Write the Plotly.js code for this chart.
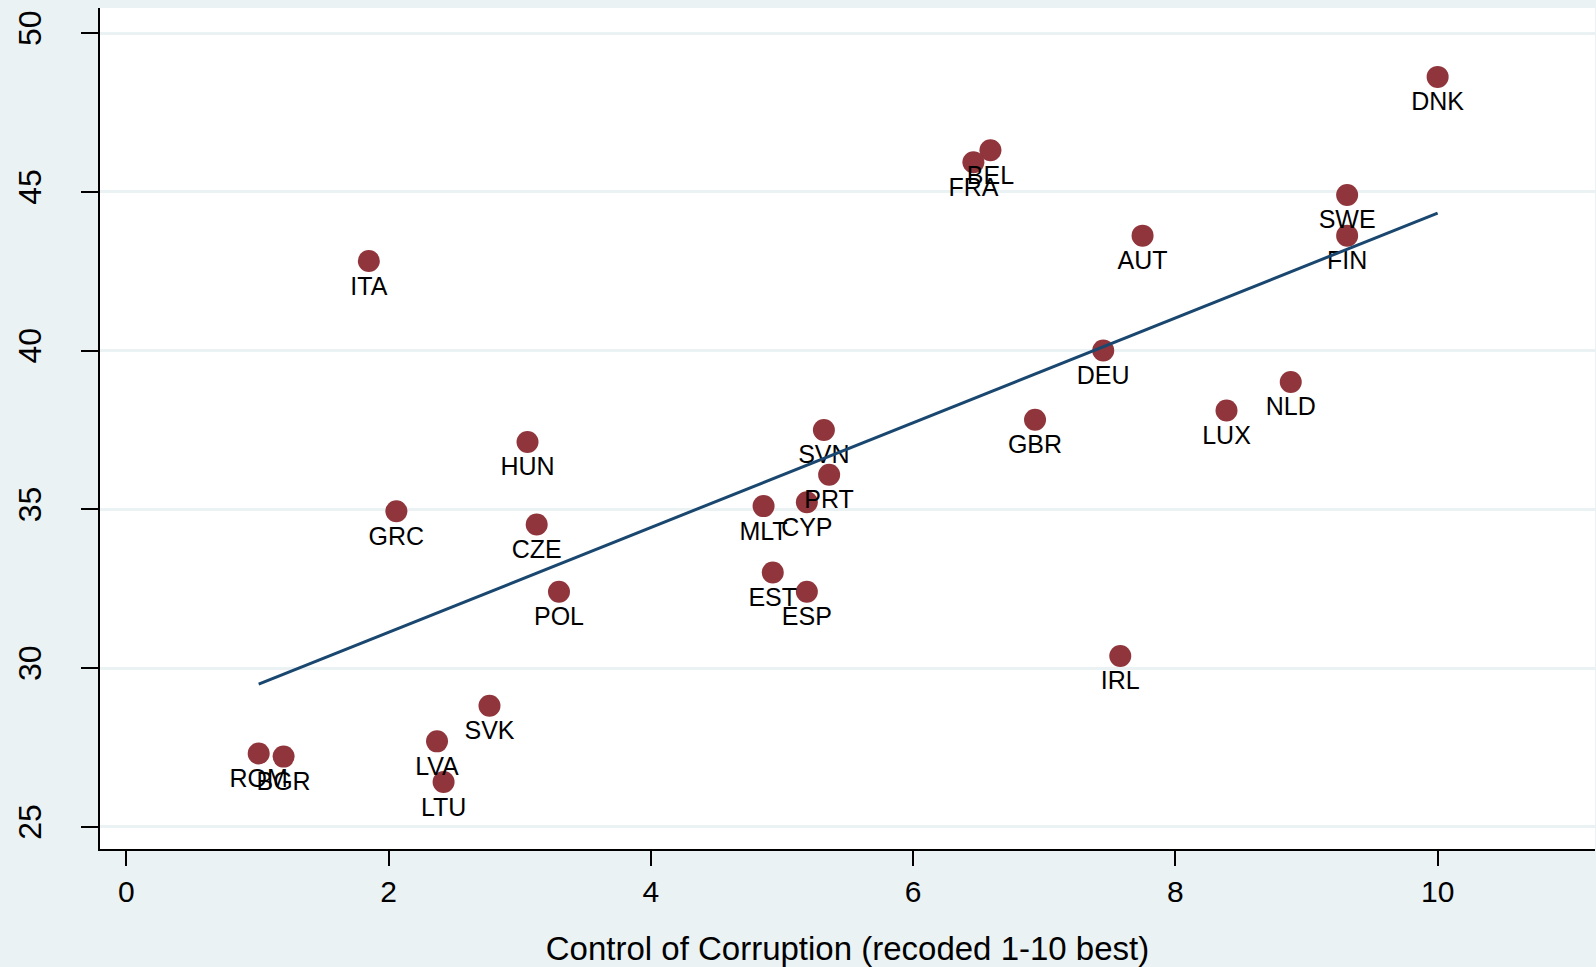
<!DOCTYPE html>
<html>
<head>
<meta charset="utf-8">
<script src="https://cdn.plot.ly/plotly-3.0.1.min.js"></script>
<style>html,body{margin:0;padding:0;background:#EAF2F3;}#chart{width:1596px;height:967px;}</style>
</head>
<body>
<div id="chart"></div>
<script>
const countries = ["DNK","BEL","FRA","SWE","FIN","AUT","ITA","DEU","NLD","LUX","GBR","SVN","HUN","PRT","CYP","MLT","GRC","CZE","EST","POL","ESP","IRL","SVK","LVA","ROM","BGR","LTU"];
const corruption = [10.0,6.59,6.46,9.31,9.31,7.75,1.85,7.45,8.88,8.39,6.93,5.32,3.06,5.36,5.19,4.86,2.06,3.13,4.93,3.30,5.19,7.58,2.77,2.37,1.01,1.20,2.42];
const outcome = [48.62,46.31,45.93,44.90,43.62,43.62,42.82,40.00,39.01,38.11,37.82,37.50,37.12,36.09,35.22,35.10,34.94,34.52,33.01,32.40,32.40,30.38,28.81,27.69,27.31,27.21,26.41];
const fitX = [1.01, 10.0];
const fitY = [29.49, 44.33];
const xTicks = [0,2,4,6,8,10];
const yTicks = [25,30,35,40,45,50];

const font = "Liberation Sans, Arial, sans-serif";
const traces = [
  {
    x: corruption, y: outcome, text: countries,
    type: "scatter", mode: "markers+text",
    textposition: "bottom center",
    textfont: {family: font, size: 25, color: "#000"},
    marker: {color: "#90353B", size: 22},
    hoverinfo: "text+x+y", showlegend: false
  },
  {
    x: fitX, y: fitY, type: "scatter", mode: "lines",
    line: {color: "#1A476F", width: 3}, showlegend: false, hoverinfo: "skip"
  }
];
const layout = {
  width: 1596, height: 967,
  paper_bgcolor: "#EAF2F3", plot_bgcolor: "#FFFFFF",
  margin: {l: 99.5, r: 1, t: 7.5, b: 117.5},
  font: {family: font, color: "#000"},
  showlegend: false,
  xaxis: {
    range: [-0.2, 11.2], tickvals: xTicks, ticktext: xTicks.map(String),
    ticks: "outside", ticklen: 15, tickwidth: 2, tickcolor: "#000",
    tickfont: {family: font, size: 30, color: "#000"},
    showgrid: false, zeroline: false,
    showline: true, linecolor: "#000", linewidth: 2,
    title: {text: "Control of Corruption (recoded 1-10 best)", font: {family: font, size: 33, color: "#000"}, standoff: 36}
  },
  yaxis: {
    range: [24.3, 50.79], tickvals: yTicks, ticktext: yTicks.map(String),
    ticks: "outside", ticklen: 17, tickwidth: 2, tickcolor: "#000",
    tickangle: -90,
    tickfont: {family: font, size: 32, color: "#000"},
    ticklabelstandoff: 27,
    showgrid: true, gridcolor: "#EAF2F3", gridwidth: 3,
    zeroline: false,
    showline: true, linecolor: "#000", linewidth: 2
  }
};
Plotly.newPlot("chart", traces, layout, {displayModeBar: false, staticPlot: true});
</script>
</body>
</html>
